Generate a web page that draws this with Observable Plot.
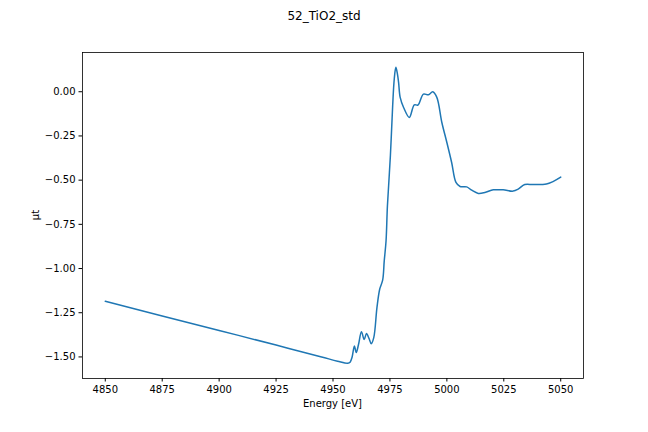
<!DOCTYPE html>
<html><head><meta charset="utf-8">
<script src="https://cdn.jsdelivr.net/npm/d3@7"></script>
<script src="https://cdn.jsdelivr.net/npm/@observablehq/plot@0.6"></script>
<style>body{margin:0;background:#fff;} svg{display:block;}</style>
</head><body><div id="chart"></div>
<script>
const title = "52_TiO2_std";
const xLabel = "Energy [eV]";
const yLabel = "μt";
const xTicks = [4850, 4875, 4900, 4925, 4950, 4975, 5000, 5025, 5050];
const yTicks = [-1.5, -1.25, -1.0, -0.75, -0.5, -0.25, 0.0];
const energy = [4850, 4875, 4900, 4925, 4945, 4952, 4956.5, 4957.5, 4958.4, 4959.4, 4960.2, 4961.2, 4962.5, 4963.7, 4964.7, 4965.8, 4966.8, 4967.9, 4969.3, 4970.5, 4971.8, 4972.5, 4973.3, 4973.9, 4975.2, 4976.2, 4976.9, 4977.6, 4978.3, 4978.8, 4979.5, 4981.0, 4983.5, 4985.7, 4987.3, 4989.7, 4991.9, 4993.8, 4995.6, 4997.8, 5000.0, 5002.1, 5004.0, 5005.8, 5008.7, 5010.9, 5013.8, 5016.7, 5020.4, 5024.7, 5029.1, 5031.3, 5034.2, 5037.9, 5043.7, 5046.6, 5050];
const mu = [-1.185, -1.268, -1.350, -1.433, -1.500, -1.524, -1.536, -1.530, -1.500, -1.438, -1.475, -1.430, -1.357, -1.402, -1.368, -1.395, -1.425, -1.391, -1.221, -1.117, -1.066, -0.957, -0.843, -0.645, -0.362, -0.079, 0.072, 0.138, 0.10, 0.053, -0.032, -0.089, -0.145, -0.074, -0.075, -0.013, -0.017, 0.000, -0.032, -0.174, -0.287, -0.400, -0.513, -0.536, -0.538, -0.557, -0.575, -0.570, -0.555, -0.555, -0.562, -0.551, -0.525, -0.525, -0.522, -0.508, -0.483];

const data = energy.map((e, i) => ({e, m: mu[i]}));
const W = 648, H = 432;
const plot = Plot.plot({
  width: W, height: H,
  marginLeft: 82, marginRight: 65, marginTop: 52, marginBottom: 54,
  style: {fontFamily: "DejaVu Sans", fontSize: "10px", background: "#fff", color: "#000"},
  x: {domain: [4840, 5060]},
  y: {domain: [-1.622, 0.222]},
  marks: [
    Plot.axisX({ticks: xTicks, tickSize: 3.5, tickPadding: 3.5, tickFormat: d => String(d), label: null, stroke: "#000", fill: "#000"}),
    Plot.axisY({ticks: yTicks, tickSize: 3.5, tickPadding: 3.5, tickFormat: d3.format(".2f"), label: null, stroke: "#000", fill: "#000"}),
    Plot.line(data, {x: "e", y: "m", stroke: "#1f77b4", strokeWidth: 1.5, curve: "catmull-rom"}),
    Plot.frame({stroke: "#000", strokeWidth: 0.8})
  ]
});
const svg = d3.select(plot);
svg.append("text").attr("x", W/2).attr("y", 20).attr("text-anchor", "middle")
  .attr("font-size", 12).attr("font-family", "DejaVu Sans").text(title);
svg.append("text").attr("x", 332.5).attr("y", 407).attr("text-anchor", "middle")
  .attr("font-size", 10).attr("font-family", "DejaVu Sans").text(xLabel);
svg.append("text").attr("transform", "translate(39,215) rotate(-90)").attr("text-anchor", "middle")
  .attr("font-size", 10).attr("font-family", "DejaVu Sans").text(yLabel);
document.getElementById("chart").appendChild(plot);
</script></body></html>
